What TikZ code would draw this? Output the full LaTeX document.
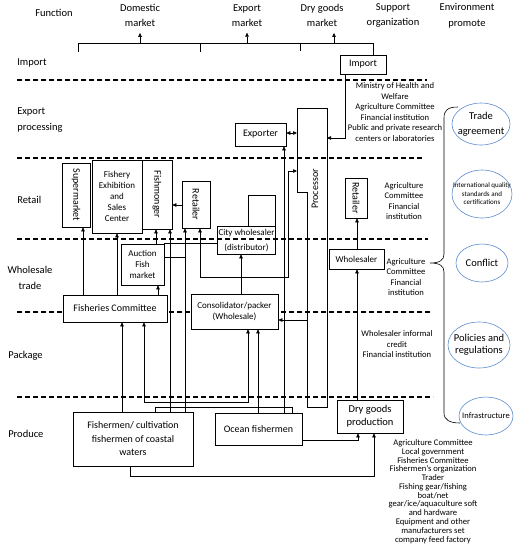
\documentclass[tikz,border=0pt]{standalone}
\usepackage{fontspec}
\setmainfont{Carlito}
\usepackage{xcolor}
\definecolor{envblue}{RGB}{91,140,205}
\usepackage{tikz}
\usetikzlibrary{arrows.meta}
\usetikzlibrary{shapes.geometric}
\newcommand{\fsbox}{\fontsize{10}{12}\selectfont}
\newcommand{\fsnarrow}{\fontsize{9}{10.8}\selectfont}
\newcommand{\fsrow}{\fontsize{10.5}{15.5}\selectfont}
\newcommand{\fssup}{\fontsize{8.6}{10.5}\selectfont}
\newcommand{\fstiny}{\fontsize{8.6}{8.8}\selectfont}
\newcommand{\widthvbox}{28pt}
\tikzset{
    common/.style={draw, rectangle, fill=white, inner sep=1pt, align=center, font=\fsbox},
    vbox/.style={common, minimum width=\widthvbox},
    bandline/.style={line width=1.8pt, dash pattern=on 5pt off 3pt},
    header/.style={inner sep=1pt, outer sep=5pt, align=center, font=\fsrow},
    rowlabel/.style={anchor=west, inner sep=0pt, align=left, font=\fsrow},
    support/.style={inner sep=0pt, align=center, font=\fssup},
    env/.style={draw=envblue, ellipse, inner sep=0pt},
    envtext/.style={inner sep=0pt, align=center, font=\fontsize{10.5}{12.5}\selectfont}
}

\begin{document}
\begin{tikzpicture}[x=1pt, y=-1pt, line width=0.6pt, >={Triangle[length=4pt,width=3.5pt]}]
    \useasboundingbox (0,0) rectangle (520,550);

    \foreach \y/\xe in {80/427, 158/422, 239/428, 312/432, 397/433}
        \draw[bandline] (17,\y) -- (\xe,\y);

    \node[header] (hdfunc) at (54,13) {Function};
    \node[header] (hddom) at (140,15.5) {Domestic\\market};
    \node[header] (hdexp) at (247,15.5) {Export\\market};
    \node[header] (hddry) at (322,15.5) {Dry goods\\market};
    \node[header] (hdsup) at (393,15.5) {Support\\organization};
    \node[header] (hdenv) at (467,15.5) {Environment\\promote};

    \node[rowlabel] (rimp) at (17,63) {Import};
    \node[rowlabel] (rexp) at (17,120) {Export\\processing};
    \node[rowlabel] (rret) at (17,200) {Retail};
    \node[rowlabel, anchor=center, align=center] (rwho) at (30,278) {Wholesale\\trade};
    \node[rowlabel] (rpkg) at (8,356) {Package};
    \node[rowlabel] (rpro) at (8,434) {Produce};

    \node[common, minimum width=46pt, minimum height=19pt] (imp) at (363,64.5) {Import};
    \node[common, minimum width=51pt, minimum height=23pt] (exporter) at (260.5,134.5) {Exporter};
    \node[vbox, minimum height=64pt] (supermkt) at (76,195) {\rotatebox{-90}{Supermarket}};
    \node[common, font=\fsnarrow, minimum width=50pt, minimum height=73pt] (fexhib) at (117,196.5) {Fishery\\Exhibition\\and\\Sales\\Center};
    \node[vbox, minimum width=30pt, minimum height=69pt] (fishmonger) at (157,194.5) {\rotatebox{-90}{Fishmonger}};
    \node[vbox, minimum height=47pt] (retailL) at (196,204.5) {\rotatebox{-90}{Retailer}};
    \node[common, fill=none, font=\fontsize{9}{15}\selectfont, minimum width=57pt, minimum height=28pt] (citywh) at (246.5,240) {City wholesaler\\(distributor)};
    \node[vbox, minimum width=22pt, minimum height=40pt] (retailR) at (356,198) {\rotatebox{-90}{Retailer}};
    \node[common, font=\fsnarrow, minimum width=55pt, minimum height=20pt] (wholesaler) at (356.5,259) {Wholesaler};
    \node[common, font=\fsnarrow, minimum width=43pt, minimum height=41pt] (auction) at (142.5,264.5) {Auction\\Fish\\market};
    \node[common, minimum width=104pt, minimum height=27pt] (fcomm) at (115,308.5) {Fisheries Committee};
    \node[common, font=\fontsize{9}{11.5}\selectfont, minimum width=87pt, minimum height=35pt] (consol) at (234.5,311.5) {Consolidator/packer\\(Wholesale)};
    \node[common, font=\fontsize{10}{13.5}\selectfont, minimum width=120pt, minimum height=54pt] (fishermen) at (133,439) {Fishermen/ cultivation\\fishermen of coastal\\waters};
    \node[common, minimum width=87pt, minimum height=32pt] (ocean) at (258.5,429) {Ocean fishermen};
    \node[common, font=\fontsize{10.5}{13}\selectfont, minimum width=66pt, minimum height=33pt] (drygoods) at (370,416.5) {Dry goods\\production};

    \draw (297,108) -- (327,108) -- (327,407) -- (307,407) -- (307,192) -- (297,192) -- cycle;
    \node (processor) at (315,189) {\rotatebox{90}{Processor}};
    \coordinate (procW) at (297,150);
    \coordinate (procLow) at (307,300);
    \coordinate (procE) at (327,200);

    \node[support] (supimp) at (395,112) {Ministry of Health and\\Welfare\\Agriculture Committee\\Financial institution\\Public and private research\\centers or laboratories};
    \node[support] (supret) at (404,201) {Agriculture\\Committee\\Financial\\institution};
    \node[support] (supwho) at (406,277) {Agriculture\\Committee\\Financial\\institution};
    \node[support] (suppkg) at (397,344.5) {Wholesaler informal\\credit\\Financial institution};
    \node[support, font=\fstiny] (suppro) at (433,491.5) {Agriculture Committee\\Local government\\Fisheries Committee\\Fishermen's organization\\Trader\\Fishing gear/fishing\\boat/net\\gear/ice/aquaculture soft\\and hardware\\Equipment and other\\manufacturers set\\company feed factory};

    \node[env, minimum width=58pt, minimum height=42pt] (trade) at (481,124) {};
    \node[envtext, font=\fontsize{10.5}{15}\selectfont] (tradetxt) at (trade) {Trade\\agreement};
    \node[env, minimum width=60pt, minimum height=48pt] (intl) at (482,194) {};
    \node[envtext, font=\fontsize{7}{8.5}\selectfont] (intltxt) at (intl) {International quality\\standards and\\certifications};
    \node[env, minimum width=52pt, minimum height=38pt] (conflict) at (482,263) {};
    \node[envtext] (conflicttxt) at (conflict) {Conflict};
    \node[env, minimum width=62pt, minimum height=46pt] (policies) at (479,345) {};
    \node[envtext] (policiestxt) at (policies) {Policies and\\regulations};
    \node[env, minimum width=54pt, minimum height=38pt] (infra) at (486,416) {};
    \node[envtext, font=\fontsize{8.5}{10}\selectfont] (infratxt) at (infra) {Infrastructure};

    \draw (458,107) .. controls (448,107) and (444,110) .. (444,118) -- (444,254)
        .. controls (444,260) and (440,263) .. (430,263)
        .. controls (440,263) and (444,266) .. (444,272) -- (444,413)
        .. controls (444,420) and (450,423) .. (460,423);

    \coordinate (brkL) at (78,52);
    \draw (brkL) |- (373,43) -- (373,0 |- imp.north);
    \draw (200,43) -- (200,52) (300,43) -- (300,51);
    \draw[->] (hddom.south |- 0,43) -- (hddom.south);
    \draw[->] (hdexp.south |- 0,43) -- (hdexp.south);
    \draw[->] (334,43) -- (334,0 |- hddry.south);

    \draw[->] (83,0 |- fcomm.north) -- (83,0 |- supermkt.south);
    \draw[->] (117,0 |- fcomm.north) -- (117,0 |- fexhib.south);
    \draw[->] (158,0 |- fcomm.north) -- (158,0 |- auction.south);
    \draw[->] (156,0 |- auction.north) -- (156,0 |- fishmonger.south);
    \draw[->] (retailL.west |- 0,205) -- (fishmonger.east |- 0,205);

    \draw[->] (122,0 |- fishermen.north) -- (122,0 |- fcomm.south);
    \draw[->] (170,0 |- fishermen.north) -- (170,0 |- fishmonger.south);
    \draw[->] (185,0 |- fishermen.north) -- (185,0 |- retailL.south);
    \draw (auction.east |- 0,257) -- (185,257);
    \draw (155,0 |- fishermen.north) |- (292,407) -- (292,0 |- ocean.north);

    \draw[<->] (144,0 |- fcomm.south) |- (248,402) -- (248,0 |- consol.south);
    \draw[->] (258,0 |- ocean.north) -- (258,0 |- consol.south);
    \draw[->] (284,0 |- ocean.north) -- (284,0 |- exporter.south);
    \draw[->] (241,0 |- consol.north) -- (241,0 |- citywh.south);
    \draw (auction.north east) -- (citywh.west |- auction.north);
    \draw (248,0 |- citywh.north) |- (citywh.north east |- 0,195) -- (citywh.north east);

    \draw[<->] (200,0 |- retailL.south) |- (288,277) |- (procW |- 0,171);
    \draw[<->] (exporter.east |- 0,133) -- (procW |- 0,133);
    \draw[->] (345,0 |- imp.south) |- (procE |- 0,138);
    \draw[->] (procLow |- 0,320) -- (consol.east |- 0,320);

    \draw[->] (130,0 |- fishermen.south) |- (374,476) -- (374,0 |- drygoods.south);
    \draw[->] (ocean.east |- 0,440) -| (358,0 |- drygoods.south);
    \draw[->] (357,0 |- drygoods.north) -- (357,0 |- wholesaler.south);
    \draw[->] (357,0 |- wholesaler.north) -- (357,0 |- retailR.south);
\end{tikzpicture}
\end{document}
